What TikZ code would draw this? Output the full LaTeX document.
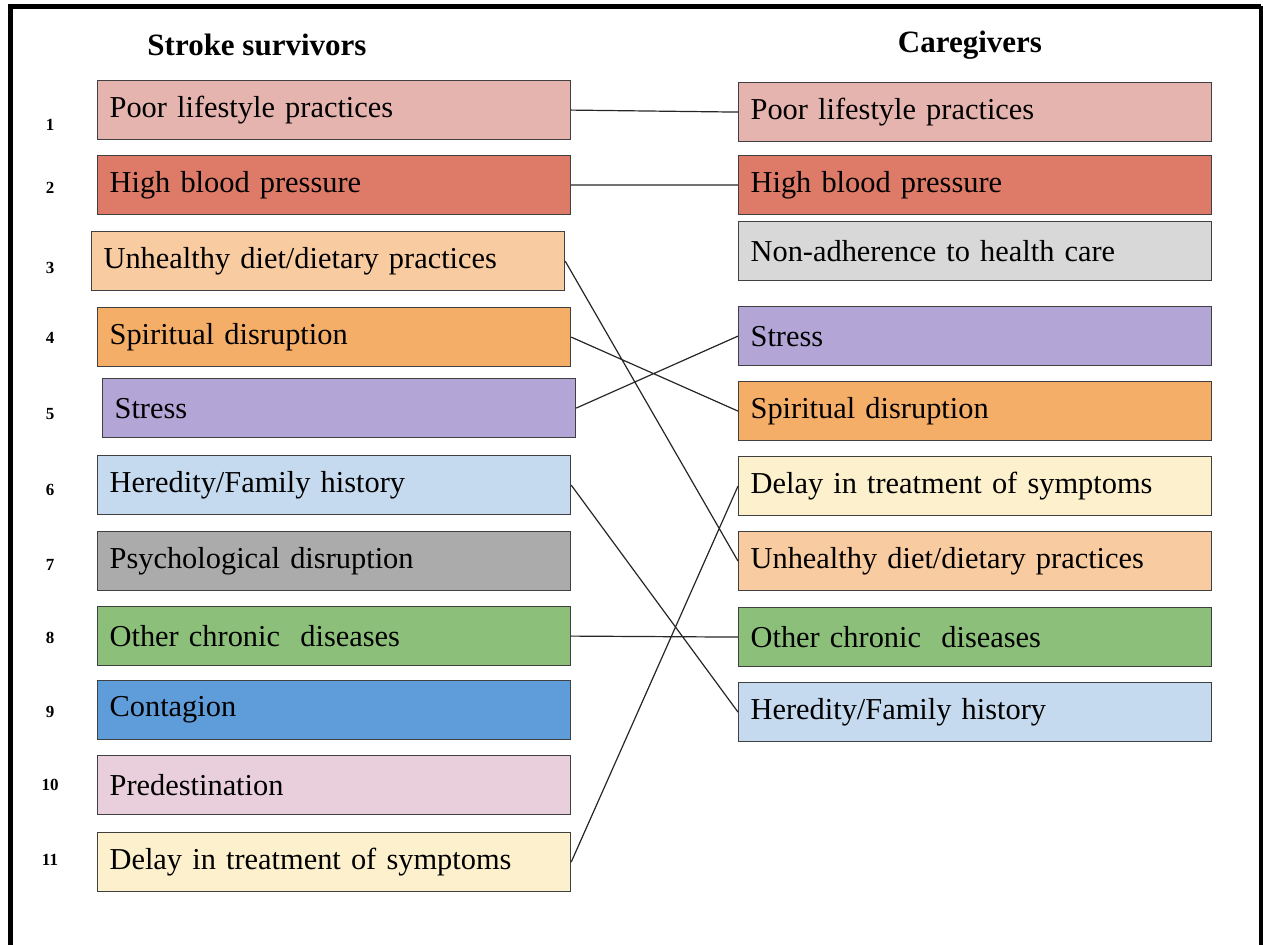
\documentclass[tikz,border=0pt]{standalone}
\usepackage{fontspec}
\setmainfont{Liberation Serif}
\usetikzlibrary{positioning}

\definecolor{cPoor}{HTML}{E6B4AE}
\definecolor{cPressure}{HTML}{DE7B68}
\definecolor{cDiet}{HTML}{F9CBA0}
\definecolor{cSpirit}{HTML}{F5AE68}
\definecolor{cStress}{HTML}{B3A6D6}
\definecolor{cHeredity}{HTML}{C6DAEF}
\definecolor{cPsych}{HTML}{ABABAB}
\definecolor{cChronic}{HTML}{8CC07A}
\definecolor{cContagion}{HTML}{5E9CDA}
\definecolor{cPredest}{HTML}{E9CFDB}
\definecolor{cDelay}{HTML}{FDF0CD}
\definecolor{cAdhere}{HTML}{D8D8D8}

\begin{document}
\begin{tikzpicture}[x=0.5pt,y=-0.5pt,
    cause/.style={draw=black!75, line width=0.6pt, anchor=north west,
      minimum height=29.5pt, text width=224.5pt, inner xsep=6pt, align=left,
      font=\fontsize{15.2}{18}\selectfont},
    idx/.style={font=\bfseries\fontsize{8.5}{10}\selectfont},
    head/.style={font=\bfseries\fontsize{15.5}{18}\selectfont},
    link/.style={draw=black!85, line width=0.6pt}]
    \useasboundingbox (0,0) rectangle (1263,945);
%
    \draw[line width=2.6pt] (10.5,945) -- (10.5,6.5) -- (1261,6.5);
    \draw[line width=2pt] (1261,6.5) -- (1261,945);
%
    \node[head] (hsurv) at (257,45) {Stroke survivors};
    \node[head] (hcare) at (970,45) {Caregivers};
%
    % stroke survivors
    \node[cause, fill=cPoor]      (s1)  at (97,80)   {Poor lifestyle practices};
    \node[cause, fill=cPressure]  (s2)  at (97,155)  {High blood pressure};
    \node[cause, fill=cDiet]      (s3)  at (91,231)  {Unhealthy diet/dietary practices};
    \node[cause, fill=cSpirit]    (s4)  at (97,307)  {Spiritual disruption};
    \node[cause, fill=cStress]    (s5)  at (102,378) {Stress};
    \node[cause, fill=cHeredity]  (s6)  at (97,455)  {Heredity/Family history};
    \node[cause, fill=cPsych]     (s7)  at (97,531)  {Psychological disruption};
    \node[cause, fill=cChronic]   (s8)  at (97,606)  {Other chronic~ diseases};
    \node[cause, fill=cContagion] (s9)  at (97,680)  {Contagion};
    \node[cause, fill=cPredest]   (s10) at (97,755)  {Predestination};
    \node[cause, fill=cDelay]     (s11) at (97,832)  {Delay in treatment of symptoms};
%
    \foreach \i/\y in {1/125,2/188,3/268,4/338,5/414,6/490,7/565,8/638,9/712,10/785,11/860}
      \node[idx] (n\i) at (50,\y) {\i};
%
    % caregivers
    \node[cause, fill=cPoor]      (c1) at (738,82)  {Poor lifestyle practices};
    \node[cause, fill=cPressure]  (c2) at (738,155) {High blood pressure};
    \node[cause, fill=cAdhere]    (c3) at (738,221) {Non-adherence to health care};
    \node[cause, fill=cStress]    (c4) at (738,306) {Stress};
    \node[cause, fill=cSpirit]    (c5) at (738,381) {Spiritual disruption};
    \node[cause, fill=cDelay]     (c6) at (738,456) {Delay in treatment of symptoms};
    \node[cause, fill=cDiet]      (c7) at (738,531) {Unhealthy diet/dietary practices};
    \node[cause, fill=cChronic]   (c8) at (738,607) {Other chronic~ diseases};
    \node[cause, fill=cHeredity]  (c9) at (738,682) {Heredity/Family history};
%
    \path[link]
    (s1.east) -- (c1.west)
    (s2.east) -- (c2.west)
    (s3.east) -- (c7.west)
    (s4.east) -- (c5.west)
    (s5.east) -- (c4.west)
    (s6.east) -- (c9.west)
    (s8.east) -- (c8.west)
    (s11.east) -- (c6.west);
\end{tikzpicture}
\end{document}
